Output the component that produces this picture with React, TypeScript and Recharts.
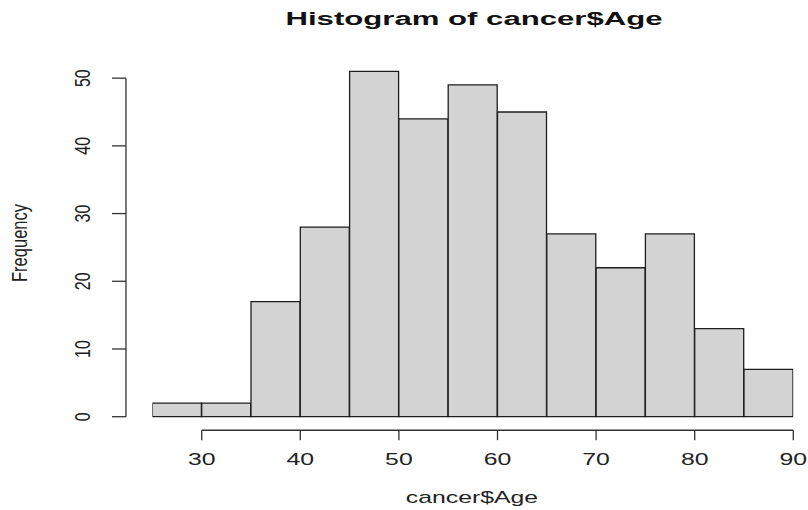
import React from 'react';
import { BarChart, Bar, XAxis, YAxis, ReferenceLine } from 'recharts';

// histogram bins of 5 years, counts
const binStarts = [25, 30, 35, 40, 45, 50, 55, 60, 65, 70, 75, 80, 85];
const frequencies = [2, 2, 17, 28, 51, 44, 49, 45, 27, 22, 27, 13, 7];
const xTicks = [30, 40, 50, 60, 70, 80, 90];
const yTicks = [0, 10, 20, 30, 40, 50];

// bars sit on a number axis at the bin midpoints, band width = bin width
const data = binStarts.map((start, i) => ({
  mid: start + 2.5,
  count: frequencies[i],
}));

const INK = '#222';
const FONT = 'Liberation Sans, Arial, sans-serif';

// R draws its axes set off from the plot region, so ticks are drawn by hand
const XTick = ({ x, y, payload }: any) => (
  <g>
    <line x1={x} x2={x} y1={y + 13.5} y2={y + 23.5} stroke="#333" strokeWidth={1.3} />
    <text
      transform={`translate(${x},${y + 48.5}) scale(1.55,1)`}
      textAnchor="middle"
      fontSize={16}
      fontFamily={FONT}
      fill={INK}
    >
      {payload.value}
    </text>
  </g>
);

const YTick = ({ x, y, payload }: any) => (
  <g>
    <line x1={x - 40.4} x2={x - 26.4} y1={y} y2={y} stroke="#333" strokeWidth={1.3} />
    <text
      transform={`translate(${x - 62.5},${y}) scale(1.35,1) rotate(-90)`}
      textAnchor="middle"
      fontSize={16}
      fontFamily={FONT}
      fill={INK}
    >
      {payload.value}
    </text>
  </g>
);

export default function App() {
  return (
    <div style={{ position: 'absolute', left: 0, top: 0, width: 808, height: 510, background: '#fff' }}>
      <BarChart
        width={808}
        height={510}
        data={data}
        barCategoryGap={0}
        barGap={0}
        margin={{ top: 44.3, right: 14.7, bottom: 33.3, left: 52.4 }}
      >
        <XAxis
          dataKey="mid"
          type="number"
          domain={[25, 90]}
          allowDataOverflow
          ticks={xTicks}
          interval={0}
          height={60}
          tickSize={0}
          tickMargin={0}
          axisLine={false}
          tickLine={false}
          tick={<XTick />}
        />
        <YAxis
          domain={[0, 55]}
          ticks={yTicks}
          interval={0}
          width={100}
          tickSize={0}
          tickMargin={0}
          axisLine={false}
          tickLine={false}
          tick={<YTick />}
        />
        <Bar
          dataKey="count"
          fill="#d3d3d3"
          stroke="#1e1e1e"
          strokeWidth={1.3}
          isAnimationActive={false}
        />
        <ReferenceLine
          segment={[{ x: 30, y: -2 }, { x: 90, y: -2 }]}
          stroke="#333"
          strokeWidth={1.3}
          ifOverflow="visible"
        />
        <ReferenceLine
          segment={[{ x: 22.32, y: 0 }, { x: 22.32, y: 50 }]}
          stroke="#333"
          strokeWidth={1.3}
          ifOverflow="visible"
        />
      </BarChart>
      <svg width={808} height={510} style={{ position: 'absolute', left: 0, top: 0, pointerEvents: 'none' }}>
        <text
          transform="translate(474,25) scale(1.73,1)"
          textAnchor="middle"
          fontSize={18}
          fontWeight="bold"
          fontFamily={FONT}
          fill="#111"
        >
          Histogram of cancer$Age
        </text>
        <text
          transform="translate(472,503) scale(1.55,1)"
          textAnchor="middle"
          fontSize={16}
          fontFamily={FONT}
          fill={INK}
        >
          cancer$Age
        </text>
        <text
          transform="translate(27,243) scale(1.35,1) rotate(-90)"
          textAnchor="middle"
          fontSize={16.5}
          fontFamily={FONT}
          fill={INK}
        >
          Frequency
        </text>
      </svg>
    </div>
  );
}
